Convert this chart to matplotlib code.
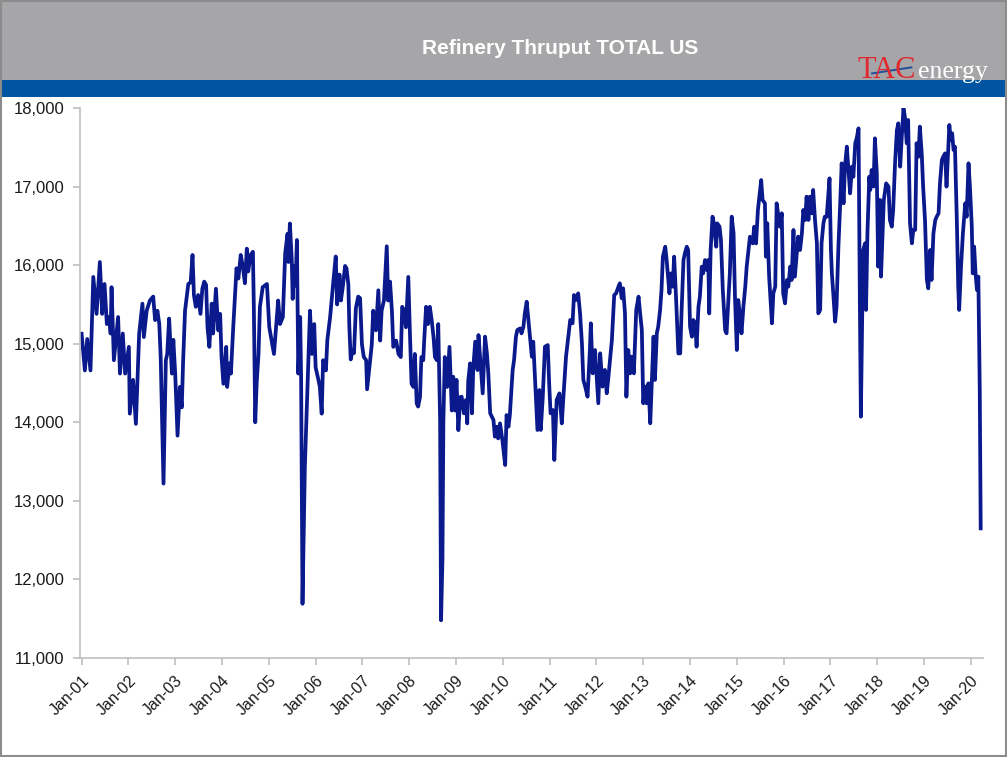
import matplotlib
matplotlib.use("Agg")
import matplotlib.pyplot as plt
from matplotlib.patches import Rectangle
from matplotlib.lines import Line2D
from matplotlib.ticker import FuncFormatter

plt.rcParams['font.family'] = ['Liberation Sans', 'DejaVu Sans']

# weekly refinery thruput (decimal year, kb/d)
t_year = [
    2001.00, 2001.07, 2001.12, 2001.19, 2001.25, 2001.32, 2001.39, 2001.44, 2001.49, 2001.54,
    2001.59, 2001.62, 2001.64, 2001.69, 2001.78, 2001.82, 2001.88, 2001.93, 2002.01, 2002.03,
    2002.10, 2002.16, 2002.23, 2002.30, 2002.33, 2002.39, 2002.46, 2002.53, 2002.57, 2002.62,
    2002.66, 2002.69, 2002.75, 2002.80, 2002.83, 2002.87, 2002.93, 2002.96, 2003.00, 2003.05,
    2003.10, 2003.14, 2003.17, 2003.21, 2003.28, 2003.33, 2003.37, 2003.40, 2003.44, 2003.49,
    2003.54, 2003.58, 2003.62, 2003.66, 2003.69, 2003.73, 2003.78, 2003.81, 2003.87, 2003.92,
    2003.96, 2003.99, 2004.03, 2004.09, 2004.11, 2004.16, 2004.19, 2004.24, 2004.28, 2004.31,
    2004.35, 2004.40, 2004.44, 2004.49, 2004.53, 2004.56, 2004.61, 2004.66, 2004.68, 2004.71,
    2004.74, 2004.78, 2004.81, 2004.87, 2004.96, 2005.01, 2005.06, 2005.11, 2005.15, 2005.20,
    2005.24, 2005.30, 2005.35, 2005.40, 2005.42, 2005.45, 2005.49, 2005.51, 2005.54, 2005.57,
    2005.60, 2005.63, 2005.67, 2005.69, 2005.72, 2005.77, 2005.82, 2005.88, 2005.92, 2005.97,
    2006.00, 2006.06, 2006.09, 2006.13, 2006.16, 2006.22, 2006.25, 2006.31, 2006.38, 2006.43,
    2006.46, 2006.51, 2006.54, 2006.58, 2006.63, 2006.66, 2006.70, 2006.72, 2006.75, 2006.79,
    2006.82, 2006.86, 2006.91, 2006.95, 2006.99, 2007.03, 2007.08, 2007.10, 2007.15, 2007.20,
    2007.23, 2007.29, 2007.34, 2007.38, 2007.41, 2007.46, 2007.52, 2007.55, 2007.59, 2007.63,
    2007.66, 2007.72, 2007.77, 2007.82, 2007.85, 2007.89, 2007.93, 2007.98, 2008.02, 2008.05,
    2008.09, 2008.12, 2008.16, 2008.19, 2008.23, 2008.26, 2008.30, 2008.32, 2008.36, 2008.40,
    2008.44, 2008.48, 2008.52, 2008.55, 2008.59, 2008.62, 2008.66, 2008.68, 2008.71, 2008.73,
    2008.76, 2008.81, 2008.86, 2008.91, 2008.94, 2008.98, 2009.01, 2009.05, 2009.09, 2009.12,
    2009.17, 2009.21, 2009.24, 2009.26, 2009.30, 2009.34, 2009.37, 2009.41, 2009.46, 2009.48,
    2009.53, 2009.57, 2009.62, 2009.66, 2009.69, 2009.73, 2009.80, 2009.83, 2009.87, 2009.90,
    2009.94, 2009.99, 2010.05, 2010.08, 2010.12, 2010.15, 2010.21, 2010.24, 2010.28, 2010.31,
    2010.37, 2010.40, 2010.44, 2010.47, 2010.51, 2010.56, 2010.62, 2010.65, 2010.71, 2010.74,
    2010.78, 2010.81, 2010.85, 2010.90, 2010.96, 2010.99, 2011.02, 2011.07, 2011.10, 2011.15,
    2011.21, 2011.26, 2011.29, 2011.35, 2011.40, 2011.44, 2011.49, 2011.52, 2011.56, 2011.61,
    2011.65, 2011.69, 2011.72, 2011.76, 2011.81, 2011.86, 2011.88, 2011.92, 2011.97, 2012.01,
    2012.04, 2012.08, 2012.13, 2012.18, 2012.22, 2012.25, 2012.29, 2012.33, 2012.38, 2012.42,
    2012.47, 2012.50, 2012.54, 2012.57, 2012.61, 2012.64, 2012.68, 2012.72, 2012.75, 2012.80,
    2012.85, 2012.90, 2012.93, 2012.97, 2013.00, 2013.04, 2013.07, 2013.11, 2013.15, 2013.18,
    2013.22, 2013.25, 2013.29, 2013.32, 2013.36, 2013.39, 2013.42, 2013.47, 2013.50, 2013.56,
    2013.59, 2013.63, 2013.66, 2013.70, 2013.75, 2013.79, 2013.82, 2013.86, 2013.89, 2013.93,
    2013.96, 2014.00, 2014.04, 2014.07, 2014.11, 2014.14, 2014.18, 2014.21, 2014.25, 2014.28,
    2014.32, 2014.36, 2014.39, 2014.41, 2014.44, 2014.48, 2014.51, 2014.56, 2014.58, 2014.63,
    2014.66, 2014.70, 2014.75, 2014.78, 2014.82, 2014.85, 2014.89, 2014.93, 2014.96, 2015.00,
    2015.03, 2015.07, 2015.10, 2015.14, 2015.18, 2015.21, 2015.25, 2015.28, 2015.34, 2015.37,
    2015.41, 2015.45, 2015.48, 2015.52, 2015.55, 2015.60, 2015.62, 2015.65, 2015.69, 2015.75,
    2015.78, 2015.82, 2015.85, 2015.89, 2015.92, 2015.96, 2015.99, 2016.03, 2016.07, 2016.10,
    2016.14, 2016.17, 2016.21, 2016.24, 2016.28, 2016.31, 2016.35, 2016.39, 2016.42, 2016.46,
    2016.49, 2016.53, 2016.56, 2016.60, 2016.63, 2016.67, 2016.71, 2016.74, 2016.78, 2016.81,
    2016.85, 2016.88, 2016.92, 2016.98, 2017.01, 2017.03, 2017.06, 2017.10, 2017.13, 2017.17,
    2017.20, 2017.24, 2017.28, 2017.31, 2017.35, 2017.38, 2017.42, 2017.46, 2017.49, 2017.53,
    2017.56, 2017.60, 2017.63, 2017.65, 2017.68, 2017.70, 2017.74, 2017.76, 2017.79, 2017.83,
    2017.85, 2017.88, 2017.92, 2017.95, 2017.99, 2018.02, 2018.06, 2018.08, 2018.12, 2018.14,
    2018.19, 2018.24, 2018.27, 2018.31, 2018.34, 2018.38, 2018.42, 2018.45, 2018.49, 2018.52,
    2018.56, 2018.59, 2018.63, 2018.66, 2018.70, 2018.74, 2018.77, 2018.81, 2018.84, 2018.88,
    2018.91, 2018.95, 2018.98, 2019.02, 2019.06, 2019.09, 2019.13, 2019.16, 2019.20, 2019.24,
    2019.27, 2019.31, 2019.34, 2019.38, 2019.41, 2019.45, 2019.48, 2019.52, 2019.54, 2019.57,
    2019.60, 2019.63, 2019.66, 2019.70, 2019.73, 2019.75, 2019.79, 2019.83, 2019.88, 2019.91,
    2019.95, 2019.98, 2020.02, 2020.04, 2020.07, 2020.10, 2020.13, 2020.16, 2020.19, 2020.21,
]
thruput = [
    15127, 14660, 15060, 14660, 15850, 15380, 16040, 15380, 15760, 15250,
    15340, 15130, 15720, 14790, 15340, 14620, 15130, 14620, 14960, 14110,
    14540, 13980, 15130, 15510, 15085, 15420, 15550, 15600, 15300, 15420,
    15250, 14830, 13220, 14790, 14870, 15320, 14620, 15050, 14620, 13830,
    14450, 14190, 14790, 15420, 15760, 15780, 16130, 15620, 15470, 15620,
    15380, 15700, 15790, 15750, 15210, 14960, 15510, 15130, 15700, 15170,
    15380, 14830, 14490, 14960, 14450, 14750, 14620, 15210, 15640, 15960,
    15830, 16130, 16000, 15770, 16210, 15920, 16130, 16170, 15470, 14000,
    14490, 14870, 15470, 15720, 15760, 15210, 15040, 14870, 15170, 15550,
    15250, 15340, 16150, 16400, 16040, 16530, 16080, 15570, 15990, 15740,
    16320, 14620, 15340, 14580, 11690, 13430, 14320, 15420, 14870, 15250,
    14700, 14540, 14450, 14110, 14790, 14660, 15045, 15340, 15800, 16110,
    15500, 15880, 15550, 15720, 15990, 15960, 15750, 15230, 14800, 14920,
    14880, 15450, 15600, 15580, 14990, 14830, 14790, 14420, 14700, 14990,
    15420, 15170, 15680, 15040, 15420, 15550, 16240, 15550, 15790, 15420,
    14960, 15040, 14870, 14830, 15470, 15420, 15210, 15850, 15040, 14490,
    14450, 14870, 14240, 14200, 14320, 14830, 14790, 15040, 15470, 15250,
    15470, 15300, 15080, 14830, 14790, 15250, 14020, 11480, 12250, 14020,
    14830, 14450, 14960, 14150, 14580, 14150, 14540, 13900, 14320, 14326,
    14114, 14283, 13986, 14517, 14750, 14114, 14708, 15026, 14665, 15110,
    14708, 14368, 15090, 14877, 14623, 14114, 14029, 13817, 13944, 13795,
    13986, 13775, 13456, 14092, 13944, 14092, 14665, 14792, 15090, 15174,
    15195, 15132, 15217, 15386, 15535, 15217, 14835, 15026, 14283, 13902,
    14410, 13902, 14283, 14962, 14983, 14495, 14114, 14156, 13520, 14283,
    14368, 13986, 14283, 14835, 15090, 15302, 15260, 15620, 15556, 15641,
    15387, 15005, 14539, 14454, 14326, 14920, 15260, 14623, 14920, 14539,
    14242, 14878, 14454, 14666, 14369, 14539, 14793, 15047, 15620, 15641,
    15726, 15769, 15578, 15705, 15387, 14326, 14920, 14623, 14835, 14623,
    15429, 15599, 15408, 15175, 14242, 14454, 14242, 14496, 13987, 14454,
    15090, 14539, 15132, 15217, 15429, 15684, 16108, 16235, 16065, 15641,
    15895, 15726, 16108, 15599, 14877, 14877, 15429, 16065, 16150, 16235,
    16192, 15217, 15090, 15302, 15259, 14962, 15471, 15598, 15980, 15895,
    16065, 15938, 16065, 15386, 16192, 16617, 16532, 16235, 16532, 16490,
    16320, 15683, 15174, 15132, 15556, 15895, 16617, 16405, 15599, 14920,
    15556, 15344, 15132, 15471, 15726, 15980, 16192, 16362, 16277, 16489,
    16277, 16702, 16871, 17083, 16829, 16787, 16108, 16533, 15854, 15260,
    15642, 15726, 16787, 16617, 16490, 16660, 15642, 15514, 15811, 15726,
    15981, 15811, 16448, 15854, 16151, 16363, 16193, 16405, 16702, 16575,
    16872, 16575, 16872, 16660, 16957, 16575, 16278, 15387, 15430, 16278,
    16533, 16617, 16617, 17105, 16193, 15896, 15642, 15281, 15472, 16236,
    16660, 17296, 16787, 17254, 17508, 17254, 16914, 17254, 17126, 17551,
    17614, 17741, 15387, 14072, 15430, 16193, 16278, 15430, 16405, 17126,
    16957, 17211, 17000, 17614, 17169, 15981, 16830, 15854, 16490, 16830,
    17041, 16999, 16575, 16490, 16702, 17296, 17720, 17805, 17254, 17593,
    17996, 17890, 17551, 17848, 16533, 16278, 16448, 16448, 17551, 17381,
    17763, 17423, 17000, 16575, 15812, 15705, 16193, 15812, 16405, 16575,
    16617, 16660, 17041, 17338, 17381, 17423, 17000, 17508, 17784, 17593,
    17678, 17466, 17508, 16575, 15727, 15430, 15981, 16405, 16787, 16617,
    17296, 17000, 16490, 15896, 16236, 15896, 15684, 15854, 14412, 12650,
]

tick_years = list(range(2001, 2021))
tick_labels = [f"Jan-{y % 100:02d}" for y in tick_years]
y_ticks = [11000, 12000, 13000, 14000, 15000, 16000, 17000, 18000]

fig = plt.figure(figsize=(10.07, 7.57), dpi=100)

# header: grey band, blue strip, outer border
fig.patches.append(Rectangle((0, 0.8943), 1, 0.1057, transform=fig.transFigure,
                             facecolor='#a6a6a9', edgecolor='none', zorder=0))
fig.patches.append(Rectangle((0, 0.8719), 1, 0.0224, transform=fig.transFigure,
                             facecolor='#0054a2', edgecolor='none', zorder=0))
fig.patches.append(Rectangle((0.001, 0.001), 0.998, 0.998, transform=fig.transFigure,
                             facecolor='none', edgecolor='#8c8c8c', lw=1.5, zorder=5))

fig.text(0.556, 0.936, 'Refinery Thruput TOTAL US', color='white', fontsize=15,
         fontweight='bold', ha='center', va='center')

# logo
fig.text(0.852, 0.8965, 'TAC', color='#e0282e', fontsize=22, family='Liberation Serif',
         ha='left', va='baseline')
fig.text(0.912, 0.8965, 'energy', color='white', fontsize=18.5, family='Liberation Serif',
         ha='left', va='baseline')
fig.lines.append(Line2D([0.866, 0.905], [0.903, 0.911], transform=fig.transFigure,
                        color='#1f4e9c', lw=1.4))

ax = fig.add_axes([0.0794, 0.1308, 0.8968, 0.7265])
ax.plot(t_year, thruput, color='#0a1a8c', lw=2.7, solid_joinstyle='round')

ax.set_xlim(2000.965, 2020.26)
ax.set_ylim(11000, 18000)
ax.set_yticks(y_ticks)
ax.yaxis.set_major_formatter(FuncFormatter(lambda v, p: f"{int(v):,}"))
ax.set_xticks(tick_years)
ax.set_xticklabels(tick_labels, rotation=45, ha='right', rotation_mode='anchor')

for s in ['top', 'right']:
    ax.spines[s].set_visible(False)
for s in ['left', 'bottom']:
    ax.spines[s].set_color('#bfbfbf')
    ax.spines[s].set_linewidth(1.2)
ax.tick_params(axis='both', color='#bfbfbf', length=5, width=1.2, labelsize=11.5,
               labelcolor='#1a1a1a')
ax.tick_params(axis='y', labelsize=12, pad=6)
ax.tick_params(axis='x', pad=6)

fig.savefig('out.png', dpi=100)
